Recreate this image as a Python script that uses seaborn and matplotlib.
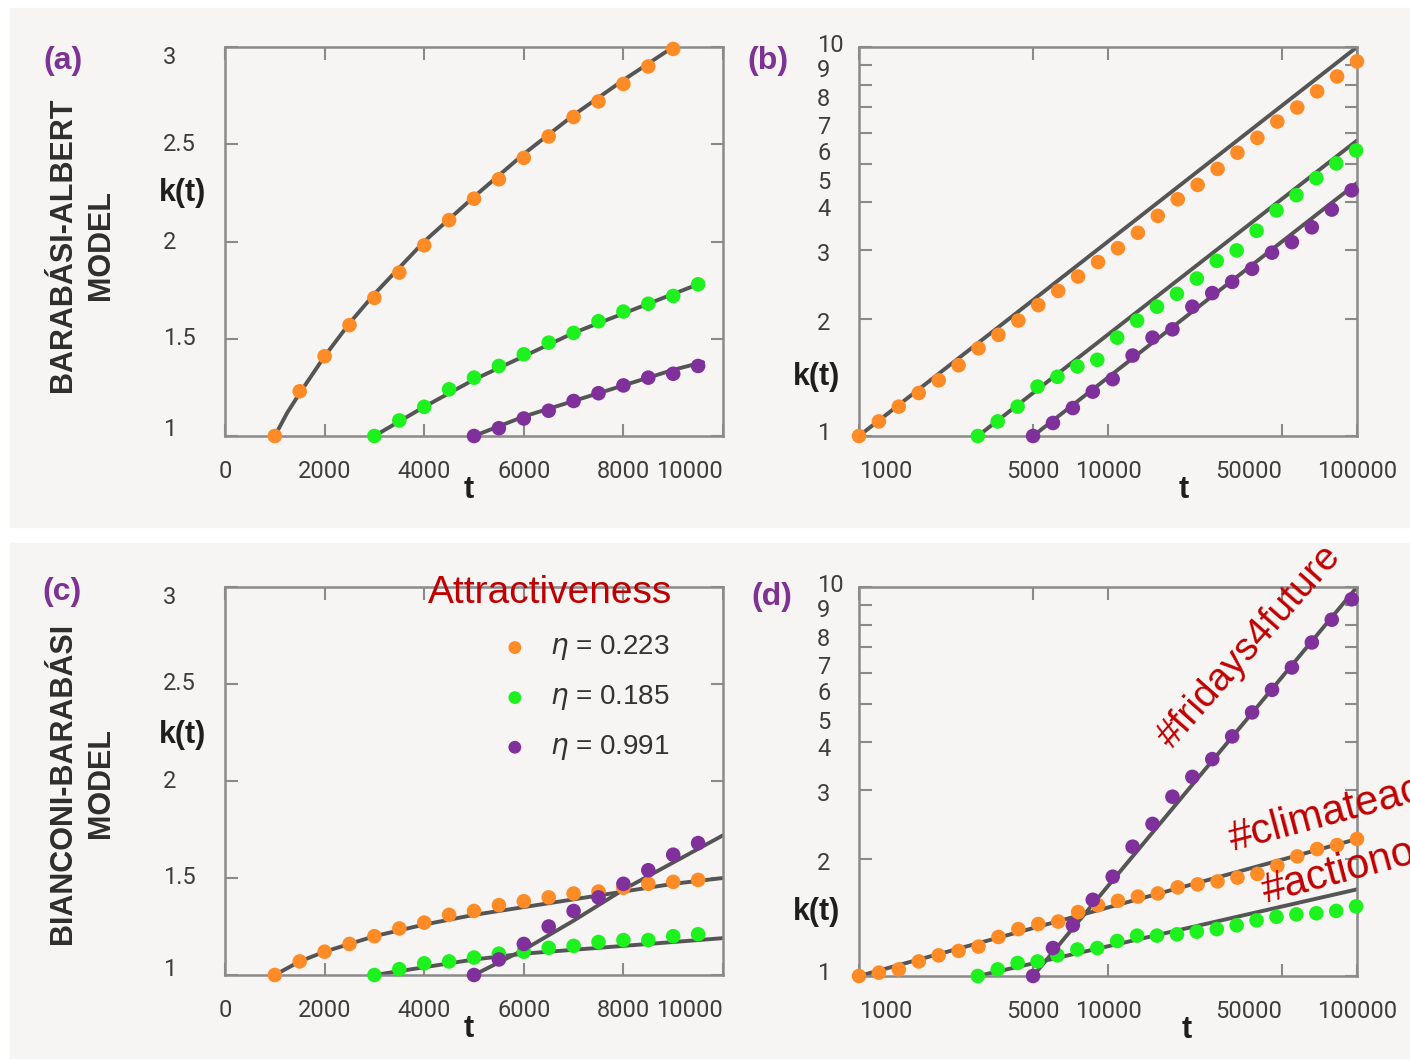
import matplotlib
matplotlib.use("Agg")
import matplotlib.pyplot as plt
import matplotlib.transforms as mtransforms
import seaborn as sns
from matplotlib import font_manager
from matplotlib.patches import Rectangle
from matplotlib.ticker import NullLocator

# ---------------- data ----------------
# (a) Barabasi-Albert, linear axes
a_t_orange = [1000, 1500, 2000, 2500, 3000, 3500, 4000, 4500, 5000, 5500, 6000, 6500, 7000, 7500, 8000, 8500, 9000]
a_k_orange = [1.00, 1.23, 1.41, 1.57, 1.71, 1.84, 1.98, 2.11, 2.22, 2.32, 2.43, 2.54, 2.64, 2.72, 2.81, 2.90, 2.99]
a_t_green = [3000, 3500, 4000, 4500, 5000, 5500, 6000, 6500, 7000, 7500, 8000, 8500, 9000, 9500]
a_k_green = [1.00, 1.08, 1.15, 1.24, 1.30, 1.36, 1.42, 1.48, 1.53, 1.59, 1.64, 1.68, 1.72, 1.78]
a_t_purple = [5000, 5500, 6000, 6500, 7000, 7500, 8000, 8500, 9000, 9500]
a_k_purple = [1.00, 1.04, 1.09, 1.13, 1.18, 1.22, 1.26, 1.30, 1.32, 1.36]
# fitted curves in (a)
a_fit_t_orange = [1000, 1250, 1500, 2000, 2500, 3000, 4000, 5000, 6000, 7000, 8000, 9000, 9400]
a_fit_k_orange = [1.00, 1.12, 1.22, 1.41, 1.58, 1.73, 2.00, 2.23, 2.45, 2.65, 2.83, 3.00, 3.06]
a_fit_t_green = [3000, 4000, 5000, 6000, 7000, 8000, 9000, 9600]
a_fit_k_green = [1.00, 1.15, 1.29, 1.41, 1.53, 1.63, 1.73, 1.79]
a_fit_t_purple = [5000, 6000, 7000, 8000, 9000, 9600]
a_fit_k_purple = [1.00, 1.10, 1.18, 1.26, 1.34, 1.38]

# (b) and (d), log-log axes
bd_t_orange = [1000, 1202, 1445, 1738, 2089, 2512, 3020, 3631, 4365, 5248, 6310, 7586, 9120,
               10965, 13183, 15849, 19055, 22909, 27542, 33113, 39811, 47863, 57544, 69183, 83176, 100000]
bd_t_green = [3000, 3606, 4335, 5212, 6266, 7533, 9056, 10887, 13088, 15734, 18916, 22740,
              27338, 32865, 39511, 47500, 57104, 68650, 82532, 99217]
bd_t_purple = [5000, 6011, 7226, 8687, 10444, 12556, 15094, 18146, 21815, 26227, 31529, 37905,
               45569, 54782, 65859, 79175, 95183]

b_k_orange = [1.00, 1.09, 1.19, 1.29, 1.39, 1.52, 1.68, 1.82, 1.98, 2.17, 2.36, 2.57, 2.80,
              3.04, 3.33, 3.68, 4.06, 4.42, 4.86, 5.35, 5.84, 6.43, 6.99, 7.69, 8.40, 9.18]
b_k_green = [1.00, 1.09, 1.19, 1.34, 1.42, 1.51, 1.57, 1.79, 1.98, 2.15, 2.32, 2.54, 2.82,
             3.00, 3.37, 3.80, 4.16, 4.60, 5.02, 5.42]
b_k_purple = [1.00, 1.08, 1.18, 1.30, 1.40, 1.61, 1.79, 1.88, 2.15, 2.33, 2.49, 2.69, 2.96,
              3.15, 3.44, 3.82, 4.28]
b_fit_t_orange, b_fit_k_orange = [1000, 100000], [1.0, 10.0]
b_fit_t_green, b_fit_k_green = [3000, 100000], [1.0, 5.75]
b_fit_t_purple, b_fit_k_purple = [5000, 100000], [1.0, 4.47]

# (c) Bianconi-Barabasi, linear axes
c_t_orange = [1000, 1500, 2000, 2500, 3000, 3500, 4000, 4500, 5000, 5500, 6000, 6500, 7000, 7500, 8000, 8500, 9000, 9500]
c_k_orange = [1.00, 1.07, 1.12, 1.16, 1.20, 1.24, 1.27, 1.31, 1.33, 1.36, 1.38, 1.40, 1.42, 1.43, 1.45, 1.47, 1.48, 1.49]
c_t_green = [3000, 3500, 4000, 4500, 5000, 5500, 6000, 6500, 7000, 7500, 8000, 8500, 9000, 9500]
c_k_green = [1.00, 1.03, 1.06, 1.07, 1.09, 1.11, 1.12, 1.14, 1.15, 1.17, 1.18, 1.18, 1.20, 1.21]
c_t_purple = [5000, 5500, 6000, 6500, 7000, 7500, 8000, 8500, 9000, 9500]
c_k_purple = [1.00, 1.08, 1.16, 1.25, 1.33, 1.40, 1.47, 1.54, 1.62, 1.68]
c_fit_t_orange = [1000, 1500, 2000, 2500, 3000, 4000, 5000, 6000, 7000, 8000, 9000, 10000]
c_fit_k_orange = [1.00, 1.07, 1.12, 1.16, 1.20, 1.26, 1.31, 1.35, 1.39, 1.43, 1.47, 1.50]
c_fit_t_green = [3000, 4000, 5000, 6000, 7000, 8000, 9000, 10000]
c_fit_k_green = [1.00, 1.04, 1.08, 1.11, 1.13, 1.15, 1.17, 1.19]
c_fit_t_purple = [5000, 6000, 7000, 8000, 9000, 10000]
c_fit_k_purple = [1.00, 1.13, 1.28, 1.44, 1.58, 1.72]

# (d) twitter hashtags, log-log axes
d_k_orange = [1.00, 1.02, 1.04, 1.09, 1.13, 1.16, 1.19, 1.26, 1.32, 1.36, 1.38, 1.46, 1.52,
              1.56, 1.60, 1.63, 1.69, 1.72, 1.75, 1.79, 1.83, 1.92, 2.03, 2.12, 2.17, 2.25]
d_k_green = [1.00, 1.04, 1.08, 1.09, 1.13, 1.17, 1.18, 1.23, 1.27, 1.27, 1.28, 1.30, 1.32,
             1.35, 1.39, 1.42, 1.44, 1.45, 1.47, 1.51]
d_k_purple = [1.00, 1.18, 1.35, 1.57, 1.80, 2.15, 2.46, 2.89, 3.25, 3.61, 4.13, 4.76, 5.44,
              6.21, 7.20, 8.24, 9.30]
d_fit_t_orange, d_fit_k_orange = [1000, 100000], [1.0, 2.25]
d_fit_t_green, d_fit_k_green = [3000, 100000], [1.0, 1.67]
d_fit_t_purple, d_fit_k_purple = [5000, 100000], [1.0, 10.0]

lin_xticks = [0, 2000, 4000, 6000, 8000, 10000]
lin_yticks = [1, 1.5, 2, 2.5, 3]
lin_yticklabels = ['1', '1.5', '2', '2.5', '3']
log_xticks = [1000, 5000, 10000, 50000, 100000]
log_yticks = [1, 2, 3, 4, 5, 6, 7, 8, 9, 10]
log_yticklabels = [str(v) for v in log_yticks]
# the original nudges its tick labels off the tick positions (pixels downwards)
lin_label_drop = [-6, 0, 1, 0, 10]
log_label_drop = [-2, 5, 4, 8, 18, 20, 20, 15, 6, -1]
lin_xlabel_ha = ['center', 'center', 'center', 'center', 'center', 'right']
log_xlabel_ha = ['left', 'center', 'center', 'right', 'center']

eta_labels = ['0.223', '0.185', '0.991']
hashtags = ['#fridays4future', '#climateaction', '#actiononclimate']

# ---------------- style ----------------
ORANGE, GREEN, PURPLE = '#ff8b26', '#1ef21e', '#80309b'
LINE = '#555555'
SPINE = '#8a8a8a'
TICK_TXT = '#3d3d3d'
RED = '#c00000'
LABEL_PURPLE = '#7e3294'
PANEL_BG = '#f6f5f3'

sns.set_theme(style='white')
plt.rcParams['font.family'] = ['Liberation Sans', 'DejaVu Sans']
TICK_FONT = ['Roboto', 'DejaVu Sans']

names = {f.name for f in font_manager.fontManager.ttflist}
if 'Liberation Sans Narrow' in names:
    row_font, row_size = 'Liberation Sans Narrow', 26
else:
    row_font, row_size = 'Liberation Sans', 22

fig = plt.figure(figsize=(14.1, 10.61), dpi=100)
fig.patch.set_facecolor('white')
fig.patches.append(Rectangle((10 / 1410, 1 - 527 / 1061), 1400 / 1410, 519 / 1061,
                             transform=fig.transFigure, color=PANEL_BG, zorder=-10))
fig.patches.append(Rectangle((10 / 1410, 1 - 1058 / 1061), 1400 / 1410, 515 / 1061,
                             transform=fig.transFigure, color=PANEL_BG, zorder=-10))

ax_a = fig.add_axes([225 / 1410, 1 - 436 / 1061, 498 / 1410, 389 / 1061])
ax_b = fig.add_axes([859 / 1410, 1 - 436 / 1061, 498 / 1410, 389 / 1061])
ax_c = fig.add_axes([225 / 1410, 1 - 975 / 1061, 498 / 1410, 388 / 1061])
ax_d = fig.add_axes([859 / 1410, 1 - 976 / 1061, 498 / 1410, 389 / 1061])


def draw(ax, fits, dots):
    for (t, k) in fits:
        sns.lineplot(x=t, y=k, ax=ax, color=LINE, linewidth=2.8, sort=False,
                     estimator=None, legend=False, zorder=2)
    for (t, k), col in zip(dots, [ORANGE, GREEN, PURPLE]):
        sns.scatterplot(x=t, y=k, ax=ax, color=col, s=110, edgecolor='none',
                        legend=False, zorder=3, clip_on=False)


def style(ax, log):
    ax.set_facecolor('none')
    for sp in ax.spines.values():
        sp.set_color(SPINE)
        sp.set_linewidth(1.8)
    if log:
        ax.set_xscale('log')
        ax.set_yscale('log')
        ax.set_xlim(1000, 100000)
        ax.set_ylim(1, 10)
        xt, xha = log_xticks, log_xlabel_ha
        yt, ylab, drops, ypad = log_yticks, log_yticklabels, log_label_drop, -0.084
    else:
        ax.set_xlim(0, 10000)
        ax.set_ylim(1, 3)
        xt, xha = lin_xticks, lin_xlabel_ha
        yt, ylab, drops, ypad = lin_yticks, lin_yticklabels, lin_label_drop, -0.125
    ax.set_xticks(xt, labels=[str(v) for v in xt])
    ax.set_yticks(yt, labels=[''] * len(yt))
    ax.xaxis.set_minor_locator(NullLocator())
    ax.yaxis.set_minor_locator(NullLocator())
    ax.tick_params(direction='in', length=9, width=1.5, color=SPINE,
                   top=True, right=True, bottom=True, left=True,
                   labelsize=17, labelcolor=TICK_TXT)
    ax.tick_params(axis='x', pad=17)
    for lab, ha in zip(ax.get_xticklabels(), xha):
        lab.set_fontfamily(TICK_FONT)
        lab.set_horizontalalignment(ha)
    # left-aligned y labels, placed like the original
    trans = mtransforms.blended_transform_factory(ax.transAxes, ax.transData)
    for v, txt, drop in zip(yt, ylab, drops):
        off = mtransforms.ScaledTranslation(0, -drop / 100, fig.dpi_scale_trans)
        ax.text(ypad, v, txt, transform=trans + off, ha='left', va='center',
                fontsize=17, color=TICK_TXT, family=TICK_FONT)
    ax.set_xlabel('')
    ax.set_ylabel('')


draw(ax_a,
     [(a_fit_t_orange, a_fit_k_orange), (a_fit_t_green, a_fit_k_green), (a_fit_t_purple, a_fit_k_purple)],
     [(a_t_orange, a_k_orange), (a_t_green, a_k_green), (a_t_purple, a_k_purple)])
draw(ax_b,
     [(b_fit_t_orange, b_fit_k_orange), (b_fit_t_green, b_fit_k_green), (b_fit_t_purple, b_fit_k_purple)],
     [(bd_t_orange, b_k_orange), (bd_t_green, b_k_green), (bd_t_purple, b_k_purple)])
draw(ax_c,
     [(c_fit_t_orange, c_fit_k_orange), (c_fit_t_green, c_fit_k_green), (c_fit_t_purple, c_fit_k_purple)],
     [(c_t_orange, c_k_orange), (c_t_green, c_k_green), (c_t_purple, c_k_purple)])
draw(ax_d,
     [(d_fit_t_orange, d_fit_k_orange), (d_fit_t_green, d_fit_k_green), (d_fit_t_purple, d_fit_k_purple)],
     [(bd_t_orange, d_k_orange), (bd_t_green, d_k_green), (bd_t_purple, d_k_purple)])

for ax in (ax_a, ax_c):
    style(ax, False)
for ax in (ax_b, ax_d):
    style(ax, True)

# axis titles
for ax, ky in [(ax_a, 0.625), (ax_b, 0.152), (ax_c, 0.619), (ax_d, 0.165)]:
    ax.text(-0.085, ky, 'k(t)', transform=ax.transAxes, ha='center', va='center',
            fontsize=22, fontweight='bold', color='#1e1e1e')
for ax, tx in [(ax_a, 0.49), (ax_b, 0.651), (ax_c, 0.49), (ax_d, 0.659)]:
    ax.text(tx, -0.14, 't', transform=ax.transAxes, ha='center', va='center',
            fontsize=22, fontweight='bold', color='#1e1e1e')

# panel letters and row titles
for lab, x, y in [('(a)', 63, 61), ('(b)', 768, 61), ('(c)', 62, 592), ('(d)', 772, 597)]:
    fig.text(x / 1410, 1 - y / 1061, lab, ha='center', va='center', fontsize=23,
             fontweight='bold', color=LABEL_PURPLE)
fig.text(82 / 1410, 1 - 245 / 1061, 'BARABÁSI-ALBERT\nMODEL', rotation=90, ha='center',
         va='center', multialignment='center', fontsize=row_size, fontweight='bold',
         family=row_font, color='#2e2e2e', linespacing=1.35)
fig.text(82 / 1410, 1 - 783 / 1061, 'BIANCONI-BARABÁSI\nMODEL', rotation=90, ha='center',
         va='center', multialignment='center', fontsize=row_size, fontweight='bold',
         family=row_font, color='#2e2e2e', linespacing=1.35)

# legend in (c)
ax_c.text(0.4076, 0.960, 'Attractiveness', transform=ax_c.transAxes, ha='left',
          va='baseline', fontsize=28, color=RED)
for y, col, eta in zip([0.844, 0.715, 0.587], [ORANGE, GREEN, PURPLE], eta_labels):
    ax_c.scatter([0.582], [y], transform=ax_c.transAxes, s=85, color=col,
                 edgecolor='none', clip_on=False)
    ax_c.text(0.653, y, r'$\eta$ = ' + eta, transform=ax_c.transAxes, ha='left',
              va='center', fontsize=20, color='#333333')

# hashtag annotations in (d); the two lower ones run off the right edge as in the original
fig.text(1250 / 1410, 1 - 647 / 1061, hashtags[0], rotation=48.5, rotation_mode='anchor',
         ha='center', va='center', fontsize=28, color=RED)
fig.text(1233 / 1410, 1 - 851 / 1061, hashtags[1], rotation=15, rotation_mode='anchor',
         ha='left', va='baseline', fontsize=30, color=RED)
fig.text(1266 / 1410, 1 - 903 / 1061, hashtags[2], rotation=15, rotation_mode='anchor',
         ha='left', va='baseline', fontsize=30, color=RED)

fig.savefig('out.png', dpi=100)
